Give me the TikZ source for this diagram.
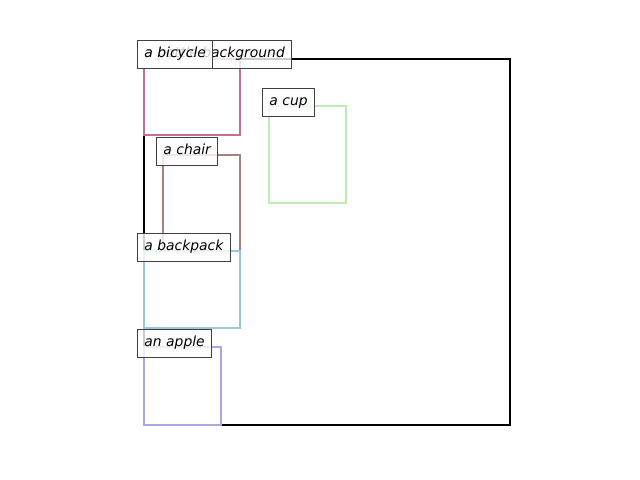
\documentclass[tikz,border=0pt]{standalone}
\usepackage{fontspec}
\setmainfont{DejaVu Sans}
\definecolor{bikecol}{RGB}{194,112,154}
\definecolor{cupcol}{RGB}{188,238,178}
\definecolor{chaircol}{RGB}{168,130,120}
\definecolor{packcol}{RGB}{152,200,224}
\definecolor{applecol}{RGB}{168,168,228}
\definecolor{tagedge}{RGB}{64,64,64}
\tikzset{
  region/.style={line width=1.6pt},
  tag/.style={draw=tagedge, fill=white, fill opacity=0.8, text opacity=1,
    line width=0.72pt, anchor=west, minimum height=20.16pt,
    text height=0.76em, text depth=0.24em,
    inner xsep=5pt, font=\itshape}
}
\begin{document}
\begin{tikzpicture}[x=0.72pt,y=-0.72pt]
    \useasboundingbox (0,0) rectangle (640,480);

    % 1) Draw the background frame
    \draw[region, black] (144,59) rectangle (510,425);

    % 2) Draw the object boxes
    \foreach \xa/\ya/\xb/\yb/\c in {144/59/240/135/bikecol,
                                   269/106/346/203/cupcol,
                                   163/155/240/251/chaircol,
                                   144/251/240/328/packcol,
                                   144/347/221/425/applecol} {
      \draw[region, \c] (\xa,\ya) rectangle (\xb,\yb);
    }

    % 3) Put the labels on top
    \node[tag] (bg) at (137,54) {a bottle background};
    \node[tag] (bike) at (137,54) {a bicycle};
    \node[tag] (cup) at (262,102) {a cup};
    \node[tag] (chair) at (156,151) {a chair};
    \node[tag] (pack) at (137,247) {a backpack};
    \node[tag] (apple) at (137,343) {an apple};
\end{tikzpicture}
\end{document}
